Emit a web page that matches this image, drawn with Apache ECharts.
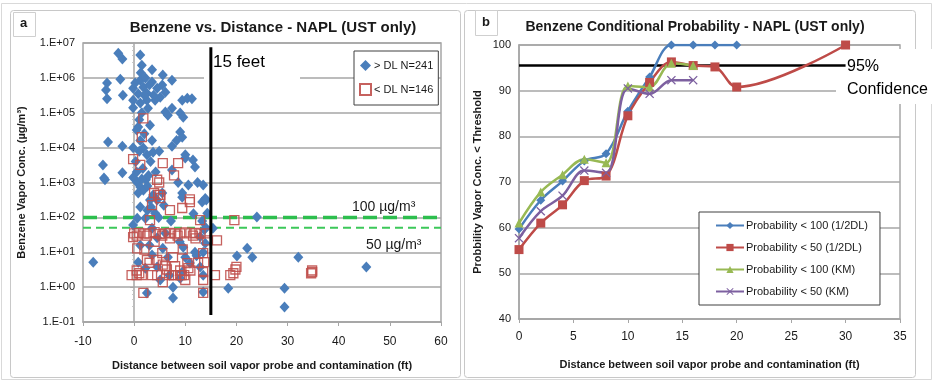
<!DOCTYPE html>
<html><head><meta charset="utf-8">
<script src="https://cdn.jsdelivr.net/npm/echarts@6/dist/echarts.min.js"></script>
<style>html,body{margin:0;padding:0;background:#fff}#c{width:934px;height:382px}</style>
</head><body><div id="c"></div>
<script>
// ---------- Panel a: scatter (x = distance ft, y = benzene µg/m3) ----------
const detected = [
[-3.1,5.1e6],[-2.3,3.5e6],[1.2,4.5e6],[3.5,1.7e6],[1.5,2.3e6],[1.3,1.4e6],[5.6,1.2e6],[7.4,8.5e5],
[-5.3,7.1e5],[-5.5,4.5e5],[-5.3,2.5e5],[-2.7,9.1e5],[-2.2,3.2e5],[-0.2,5.0e5],[0.2,7.1e5],[1.2,8.5e5],
[1.8,5.4e5],[2.5,3.6e5],[3.5,7.6e5],[4.5,5.0e5],[5.5,6.2e5],[6.1,3.9e5],[5.1,2.8e5],[4.1,2.3e5],
[2.5,2.3e5],[-0.2,2.3e5],[1.2,1.9e5],[-0.2,1.4e5],[9.4,2.3e5],[10.4,2.6e5],[11.3,2.5e5],[9.0,9.8e4],
[9.6,7.4e4],[6.1,1.05e5],[6.6,8.5e4],[7.4,1.35e5],[2.7,1.35e5],[0.8,3.9e4],[3.1,4.4e4],[-5.1,1.45e4],
[-2.3,1.1e4],[1.2,1.6e4],[-0.2,1.0e4],[1.8,9.8e3],[3.5,1.6e4],[3.7,7.4e3],[2.5,6.2e3],[7.4,1.1e4],
[9.0,2.8e4],[9.4,2.0e4],[10.0,6.2e3],[10.0,5.0e3],[11.5,4.4e3],[11.9,2.8e3],[7.4,2.3e3],[-6.1,3.2e3],
[-5.9,1.35e3],[-2.3,1.9e3],[-0.2,1.4e3],[0.6,1.0e3],[1.2,740],[1.8,600],[9.4,500],[10.6,850],
[13.5,850],[13.9,350],[-5.7,1.2e3],[-8.0,5.2],[2.5,0.68],[7.6,1.0],[7.6,0.49],[13.5,0.72],
[9.4,380],[13.3,275],[14.1,316],[14.3,132],[13.7,44],[12.9,28],[13.9,18],[13.5,10],
[24.0,102],[22.1,13],[23.1,7.2],[20.1,7.8],[18.4,0.93],[29.4,0.93],[29.4,0.27],[32.1,7.2],
[45.4,3.8],[15.4,49],[0.8,500],[1.2,200],[0.6,95],[-0.2,60],[2.2,95],[3.1,316],
[3.7,440],[3.5,49],[4.5,26],[1.2,16],[0.8,5.2],[2.2,3.5],[4.5,3.8],[5.1,1.6],
[6.6,7.2],[5.6,13],[9.6,14],[10.0,7.2],[9.4,2.7],[9.0,1.8],[11.9,10],[10.9,4.9],
[2.3,1.2e3],[4.1,132],[6.1,35],[4.5,316],[13.5,2.2],[12.9,3.8],[3.5,8.3],
[0.5,3.2e4],[1.0,6.3e4],[1.5,1.0e5],[2.0,2.5e4],[0.3,4.0e3],[1.7,2.5e3],[2.8,1.6e3],[3.2,4.0e3],
[4.2,2.0e3],[1.0,7.9e3],[2.0,3.2e5],[3.0,6.3e5],[3.8,3.2e5],[2.2,1.0e6],[0.8,3.5e5],[0.5,2.0e3],
[1.5,1.26e3],[2.6,800],[3.3,200],[2.6,160],[4.8,100],[5.5,500],[4.9,7.9e3],[8.3,1.6e4],
[8.6,1.0e3],[11.6,126],[12.4,1.0e3],[8.9,20],[12.2,7.9],[6.9,2.2],[13.3,79],[14.0,50],
[5.8,224],[7.2,79],[3.0,16]
];
const nonDetected = [
[1.8,6.9e4],[1.5,2.0e4],[-0.2,4.7e3],[1.2,3.2e3],[5.6,3.6e3],[8.6,3.6e3],[7.8,1.6e3],[4.5,1.2e3],
[4.9,1.0e3],[3.9,500],[5.1,440],[10.9,330],[4.7,440],[5.1,355],[3.5,224],[7.0,162],
[10.9,275],[9.4,186],[12.9,83],[3.1,83],[19.6,83],
[0,35],[1,36],[2,34],[3,35],[4,38],[5,33],[6,35],[7,36],[8,34],[9,35],[10,37],[11,35],[12,36],[13,34],[14,35],
[0.5,30],[2.5,30],[5.5,30],[8.5,30],[11.5,30],
[-0.2,27],[14.3,22],[16.2,22],[0.6,13],[2.5,6],[4.5,6],[5.5,9.5],[7.6,7.2],
[10.4,4.9],[10.6,3.5],[13.5,9.5],[13.7,5.2],[5.6,4.4],[6.4,3.2],
[-0.5,2.2],[0.5,2.2],[1.5,2.2],[3.5,2.2],[4.5,2.2],[6.8,2.2],[7.5,2.2],[8.0,2.2],[9.0,2.2],[9.3,2.2],[9.8,2.2],
[13.5,2.7],[13.5,1.6],[5.6,1.4],[1.8,0.68],[13.5,0.68],[15.8,2.2],[18.8,2.2],[19.4,2.5],
[19.8,3.2],[20.0,3.8],[34.8,2.7],[34.8,3.0],[34.6,2.5],
[2,12],[3,5],[8,4],[9,3],[11,3],[12,25],[7,25],[4,20],[6,4],[9.5,12],[10,1.6],[12.5,5],[0.5,3],[1,2.5]
];
const feet15Line = [[15,7.5e6],[15,0.16]];
const threshold100 = [[-10,100],[60,100]];
const threshold50 = [[-10,50],[60,50]];

// ---------- Panel b: conditional probability ----------
const p100half = [[0,59.7],[2,66],[4,70.2],[6,74.6],[8,76.2],[10,85.5],[12,93],[14,100],[16,100],[18,100],[20,100]];
const p50half  = [[0,55.2],[2,61],[4,65],[6,70.3],[8,71.3],[10,84.5],[12,91.8],[14,96.3],[16,95.5],[18,95.2],[20,90.8],[30,100]];
const p100km   = [[0,61],[2,67.8],[4,71.6],[6,75],[8,74.2],[10,91],[12,90.8],[14,96],[16,95.5]];
const p50km    = [[0,57.7],[2,63.6],[4,67],[6,72.5],[8,72],[10,90.5],[12,89.3],[14,92.3],[16,92.3]];
const conf95   = [[0,95.5],[30,95.5]];

const F = 'Liberation Sans, Arial, sans-serif';
const txt = '#1a1a1a';
const gridC = '#a6a6a6';
const blue='#4A7EBB', red='#BE4B48', green='#98B954', purple='#7D60A0';
const xSym = 'path://M0,1L1,0L5,4L9,0L10,1L6,5L10,9L9,10L5,6L1,10L0,9L4,5Z';

function expLabel(v){
  const e = Math.round(Math.log10(v));
  return '1.E' + (e<0?'-':'+') + String(Math.abs(e)).padStart(2,'0');
}

const chart = echarts.init(document.getElementById('c'), null, {renderer:'canvas'});
chart.setOption({
  backgroundColor:'#fff',
  animation:false,
  textStyle:{fontFamily:F},
  title:[
    {text:'Benzene vs. Distance - NAPL (UST only)', left:268, top:15, textAlign:'center',
     textStyle:{fontFamily:F,fontSize:15,fontWeight:'bold',color:txt}},
    {text:'Benzene Conditional Probability - NAPL (UST only)', left:690, top:15, textAlign:'center',
     textStyle:{fontFamily:F,fontSize:14,fontWeight:'bold',color:txt}}
  ],
  graphic:[
    {type:'rect', shape:{x:1.5,y:3.5,width:930,height:376}, style:{fill:'none',stroke:'#d9d9d9',lineWidth:1}, z:-1},
    {type:'rect', shape:{x:10.5,y:10.5,width:450,height:367,r:3}, style:{fill:'none',stroke:'#c8c8c8',lineWidth:1}, z:-1},
    {type:'rect', shape:{x:464.5,y:10.5,width:451,height:367,r:3}, style:{fill:'none',stroke:'#c8c8c8',lineWidth:1}, z:-1},
    {type:'rect', shape:{x:13.5,y:12.5,width:22,height:24}, style:{fill:'#fff',stroke:'#cfcfcf',lineWidth:1}, z:1},
    {type:'text', left:20, top:17, style:{text:'a',font:'bold 13px '+F,fill:txt}, z:2},
    {type:'rect', shape:{x:475.5,y:10.5,width:22,height:25}, style:{fill:'#fff',stroke:'#cfcfcf',lineWidth:1}, z:1},
    {type:'text', left:482, top:16, style:{text:'b',font:'bold 13px '+F,fill:txt}, z:2},
    {type:'rect', shape:{x:204,y:50,width:96,height:32}, style:{fill:'#fff'}, z:1},
    {type:'text', left:213, top:54, style:{text:'15 feet',font:'17px '+F,fill:'#000'}, z:3},
    {type:'text', left:352, top:200, style:{text:'100 µg/m³',font:'14px '+F,fill:txt}, z:3},
    {type:'text', left:366, top:238, style:{text:'50 µg/m³',font:'14px '+F,fill:txt}, z:3},
    {type:'rect', shape:{x:836,y:49,width:98,height:55}, style:{fill:'#fff'}, z:1},
    {type:'text', left:847, top:59, style:{text:'95%',font:'16px '+F,fill:'#000'}, z:3},
    {type:'text', left:847, top:82, style:{text:'Confidence',font:'16px '+F,fill:'#000'}, z:3}
  ],
  legend:[
    {data:['> DL N=241','< DL N=146'], orient:'vertical', left:354, top:51,
     padding:[9,5,9,5], itemGap:12, itemWidth:11, itemHeight:11,
     textStyle:{fontFamily:F,fontSize:11,color:txt,padding:[0,0,0,-2]}, borderColor:'#404040', borderWidth:1, backgroundColor:'#fff'},
    {data:['Probability < 100 (1/2DL)','Probability < 50 (1/2DL)','Probability < 100 (KM)','Probability < 50 (KM)'],
     orient:'vertical', left:699, top:212, padding:[8,12,8,16], itemGap:11, itemWidth:28, itemHeight:9,
     textStyle:{fontFamily:F,fontSize:11,color:txt,padding:[0,0,0,-3]}, borderColor:'#404040', borderWidth:1, backgroundColor:'#fff'}
  ],
  grid:[
    {left:83, top:43, width:358, height:279, show:true, borderColor:gridC, borderWidth:1.5, backgroundColor:'transparent'},
    {left:519, top:45, width:381, height:274, show:true, borderColor:gridC, borderWidth:1.5, backgroundColor:'transparent'}
  ],
  xAxis:[
    {gridIndex:0, type:'value', min:-10, max:60, interval:10,
     name:'Distance between soil vapor probe and contamination (ft)', nameLocation:'middle', nameGap:38,
     nameTextStyle:{fontFamily:F,fontSize:11,fontWeight:'bold',color:txt},
     axisLine:{lineStyle:{color:gridC,width:1.5}}, axisTick:{show:true,length:4,lineStyle:{color:gridC}},
     axisLabel:{fontFamily:F,fontSize:12,color:txt,margin:14}, splitLine:{show:false}},
    {gridIndex:1, type:'value', min:0, max:35, interval:5,
     name:'Distance between soil vapor probe and contamination (ft)', nameLocation:'middle', nameGap:40,
     nameTextStyle:{fontFamily:F,fontSize:11,fontWeight:'bold',color:txt},
     axisLine:{lineStyle:{color:gridC,width:1.5}}, axisTick:{show:true,length:4,lineStyle:{color:gridC}},
     axisLabel:{fontFamily:F,fontSize:12,color:txt,margin:12}, splitLine:{show:false}}
  ],
  yAxis:[
    {gridIndex:0, type:'log', logBase:10, min:0.1, max:1e7,
     name:'Benzene Vapor Conc. (µg/m³)', nameLocation:'middle', nameGap:56,
     nameTextStyle:{fontFamily:F,fontSize:11,fontWeight:'bold',color:txt},
     axisLine:{show:true,lineStyle:{color:gridC,width:1.5}}, axisTick:{show:true,length:4,lineStyle:{color:gridC}},
     minorTick:{show:true,length:2,splitNumber:5,lineStyle:{color:'#c0c0c0'}},
     axisLabel:{fontFamily:F,fontSize:11,color:txt,margin:8,formatter:expLabel},
     splitLine:{show:true,lineStyle:{color:gridC,width:1.5}}},
    {gridIndex:1, type:'value', min:40, max:100, interval:10,
     name:'Probbility Vapor Conc. < Threshold', nameLocation:'middle', nameGap:36,
     nameTextStyle:{fontFamily:F,fontSize:11,fontWeight:'bold',color:txt},
     axisLine:{show:true,lineStyle:{color:gridC,width:1.5}}, axisTick:{show:false},
     axisLabel:{fontFamily:F,fontSize:11,color:txt,margin:8},
     splitLine:{show:true,lineStyle:{color:gridC,width:1.5}}}
  ],
  series:[
    {type:'line', xAxisIndex:0, yAxisIndex:0, data:threshold100, symbol:'none', silent:true,
     lineStyle:{color:'#2DBE4E',width:3.5,type:[14,6]}, z:3},
    {type:'line', xAxisIndex:0, yAxisIndex:0, data:threshold50, symbol:'none', silent:true,
     lineStyle:{color:'#3CC85A',width:2,type:[8,5]}, z:3},
    {name:'> DL N=241', type:'scatter', xAxisIndex:0, yAxisIndex:0, data:detected,
     symbol:'diamond', symbolSize:[10,11], itemStyle:{color:blue,opacity:1,borderWidth:0}, z:4},
    {name:'< DL N=146', type:'scatter', xAxisIndex:0, yAxisIndex:0, data:nonDetected,
     symbol:'rect', symbolSize:9, itemStyle:{color:'rgba(255,255,255,0)',borderColor:'rgba(192,80,77,0.9)',borderWidth:1.3,opacity:1}, z:5},
    {type:'line', xAxisIndex:0, yAxisIndex:0, data:feet15Line, symbol:'none', silent:true,
     lineStyle:{color:'#000',width:3}, z:6},

    {type:'line', xAxisIndex:1, yAxisIndex:1, data:conf95, symbol:'none', silent:true,
     lineStyle:{color:'#000',width:2.5}, z:3},
    {name:'Probability < 100 (1/2DL)', type:'line', xAxisIndex:1, yAxisIndex:1, data:p100half, smooth:0.35,
     symbol:'diamond', symbolSize:9, lineStyle:{color:blue,width:2.5}, itemStyle:{color:blue}, z:4},
    {name:'Probability < 50 (1/2DL)', type:'line', xAxisIndex:1, yAxisIndex:1, data:p50half, smooth:0.35,
     symbol:'rect', symbolSize:9, lineStyle:{color:red,width:2.5}, itemStyle:{color:red}, z:4},
    {name:'Probability < 100 (KM)', type:'line', xAxisIndex:1, yAxisIndex:1, data:p100km, smooth:0.35,
     symbol:'triangle', symbolSize:9, lineStyle:{color:green,width:2.5}, itemStyle:{color:green}, z:4},
    {name:'Probability < 50 (KM)', type:'line', xAxisIndex:1, yAxisIndex:1, data:p50km, smooth:0.35,
     symbol:xSym, symbolSize:9, lineStyle:{color:purple,width:2.5}, itemStyle:{color:purple}, z:4}
  ]
});
</script></body></html>
